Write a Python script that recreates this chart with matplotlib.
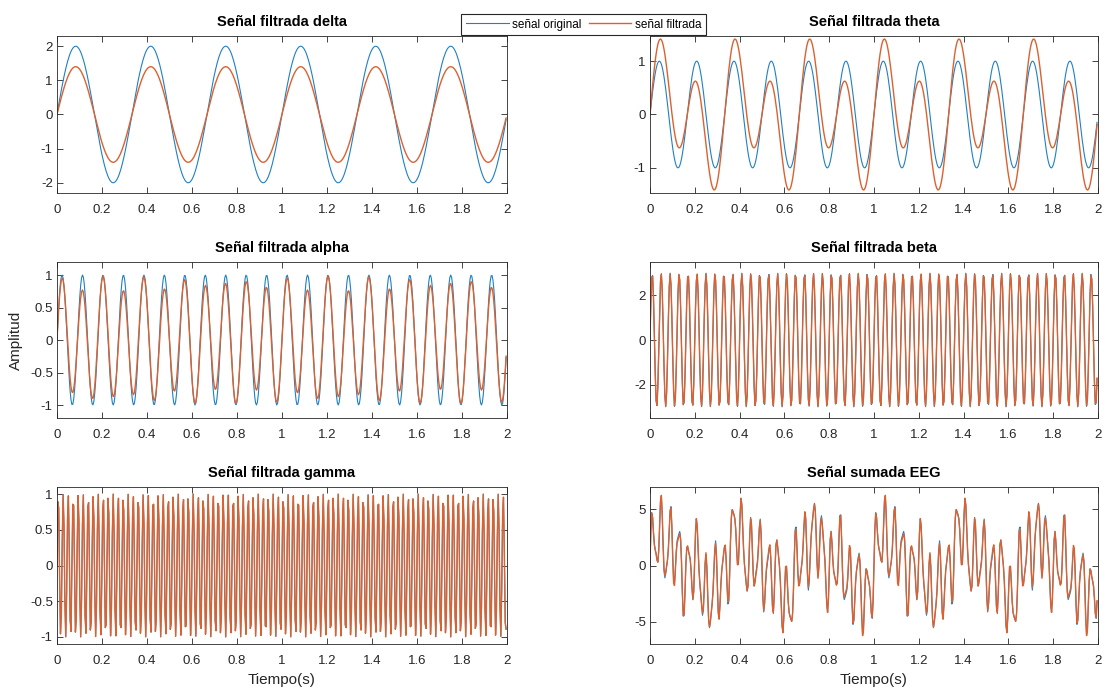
import numpy as np
import matplotlib.pyplot as plt
from matplotlib.ticker import FormatStrFormatter

plt.rcParams['font.family'] = ['Liberation Sans', 'DejaVu Sans']

# frecuencia de muestreo y vector de tiempo
fs = 256
t = np.arange(0, 2, 1 / fs)

bandas = ['delta', 'theta', 'alpha', 'beta', 'gamma']
frecuencias = [3, 6, 11, 25, 45]   # Hz
amplitudes = [2, 1, 1, 3, 1]
# ganancia del filtro en su banda y fuga de la banda anterior
ganancias = [0.7, 1.0, 0.87, 0.99, 1.0]
fugas = [0.0, 0.28, 0.11, 0.0, 0.0]

titulos = ['Señal filtrada delta', 'Señal filtrada theta', 'Señal filtrada alpha',
           'Señal filtrada beta', 'Señal filtrada gamma', 'Señal sumada EEG']
limites_y = [2.3, 1.47, 1.2, 3.5, 1.1, 7]
ticks_y = [[-2, -1, 0, 1, 2], [-1, 0, 1], [-1, -0.5, 0, 0.5, 1],
           [-2, 0, 2], [-1, -0.5, 0, 0.5, 1], [-5, 0, 5]]
ticks_x = [0, 0.2, 0.4, 0.6, 0.8, 1, 1.2, 1.4, 1.6, 1.8, 2]

originales = [a * np.sin(2 * np.pi * f * t) for f, a in zip(frecuencias, amplitudes)]
filtradas = []
for i in range(len(bandas)):
    y = ganancias[i] * originales[i]
    if i > 0:
        y = y + fugas[i] * originales[i - 1]
    filtradas.append(y)

# señal EEG = suma de todas las bandas
originales.append(np.sum(originales, axis=0))
filtradas.append(np.sum(filtradas, axis=0))

azul = '#1f80c4'
naranja = '#dc6130'
gris = '#262626'

fig = plt.figure(figsize=(11.06, 6.96), dpi=100)
izq = [0.0515, 0.5877]
ancho = [0.4069, 0.405]
abajo = [0.7227, 0.3994, 0.0747]
alto = [0.2256, 0.2241, 0.2256]

axs = []
for k in range(6):
    fila, col = k // 2, k % 2
    ax = fig.add_axes([izq[col], abajo[fila], ancho[col], alto[fila]])
    l1, = ax.plot(t, originales[k], color=azul, lw=0.8)
    l2, = ax.plot(t, filtradas[k], color=naranja, lw=1.0)
    ax.set_xlim(0, 2)
    ax.set_ylim(-limites_y[k], limites_y[k])
    ax.set_xticks(ticks_x)
    ax.set_yticks(ticks_y[k])
    ax.xaxis.set_major_formatter(FormatStrFormatter('%g'))
    ax.yaxis.set_major_formatter(FormatStrFormatter('%g'))
    ax.tick_params(direction='in', top=True, right=True, length=4, width=0.6,
                   colors=gris, labelsize=9.5)
    ax.tick_params(axis='x', pad=8)
    ax.tick_params(axis='y', pad=3)
    for s in ax.spines.values():
        s.set_color(gris)
        s.set_linewidth(0.6)
    ax.set_title(titulos[k], fontsize=10.5, fontweight='bold', color='black', pad=7)
    axs.append(ax)

axs[2].set_ylabel('Amplitud', fontsize=11, color=gris, labelpad=5)
axs[4].set_xlabel('Tiempo(s)', fontsize=11, color=gris, labelpad=4)
axs[5].set_xlabel('Tiempo(s)', fontsize=11, color=gris, labelpad=4)

leg = fig.legend([l1, l2], ['señal original', 'señal filtrada'], ncol=2,
                 loc='upper center', bbox_to_anchor=(0.5276, 0.9885), fontsize=8.5,
                 frameon=True, fancybox=False, framealpha=1, edgecolor=gris,
                 handlelength=3.6, handletextpad=0.3, columnspacing=0.6, borderpad=0.4)
leg.get_frame().set_linewidth(0.8)

plt.savefig('out.png', dpi=100)
